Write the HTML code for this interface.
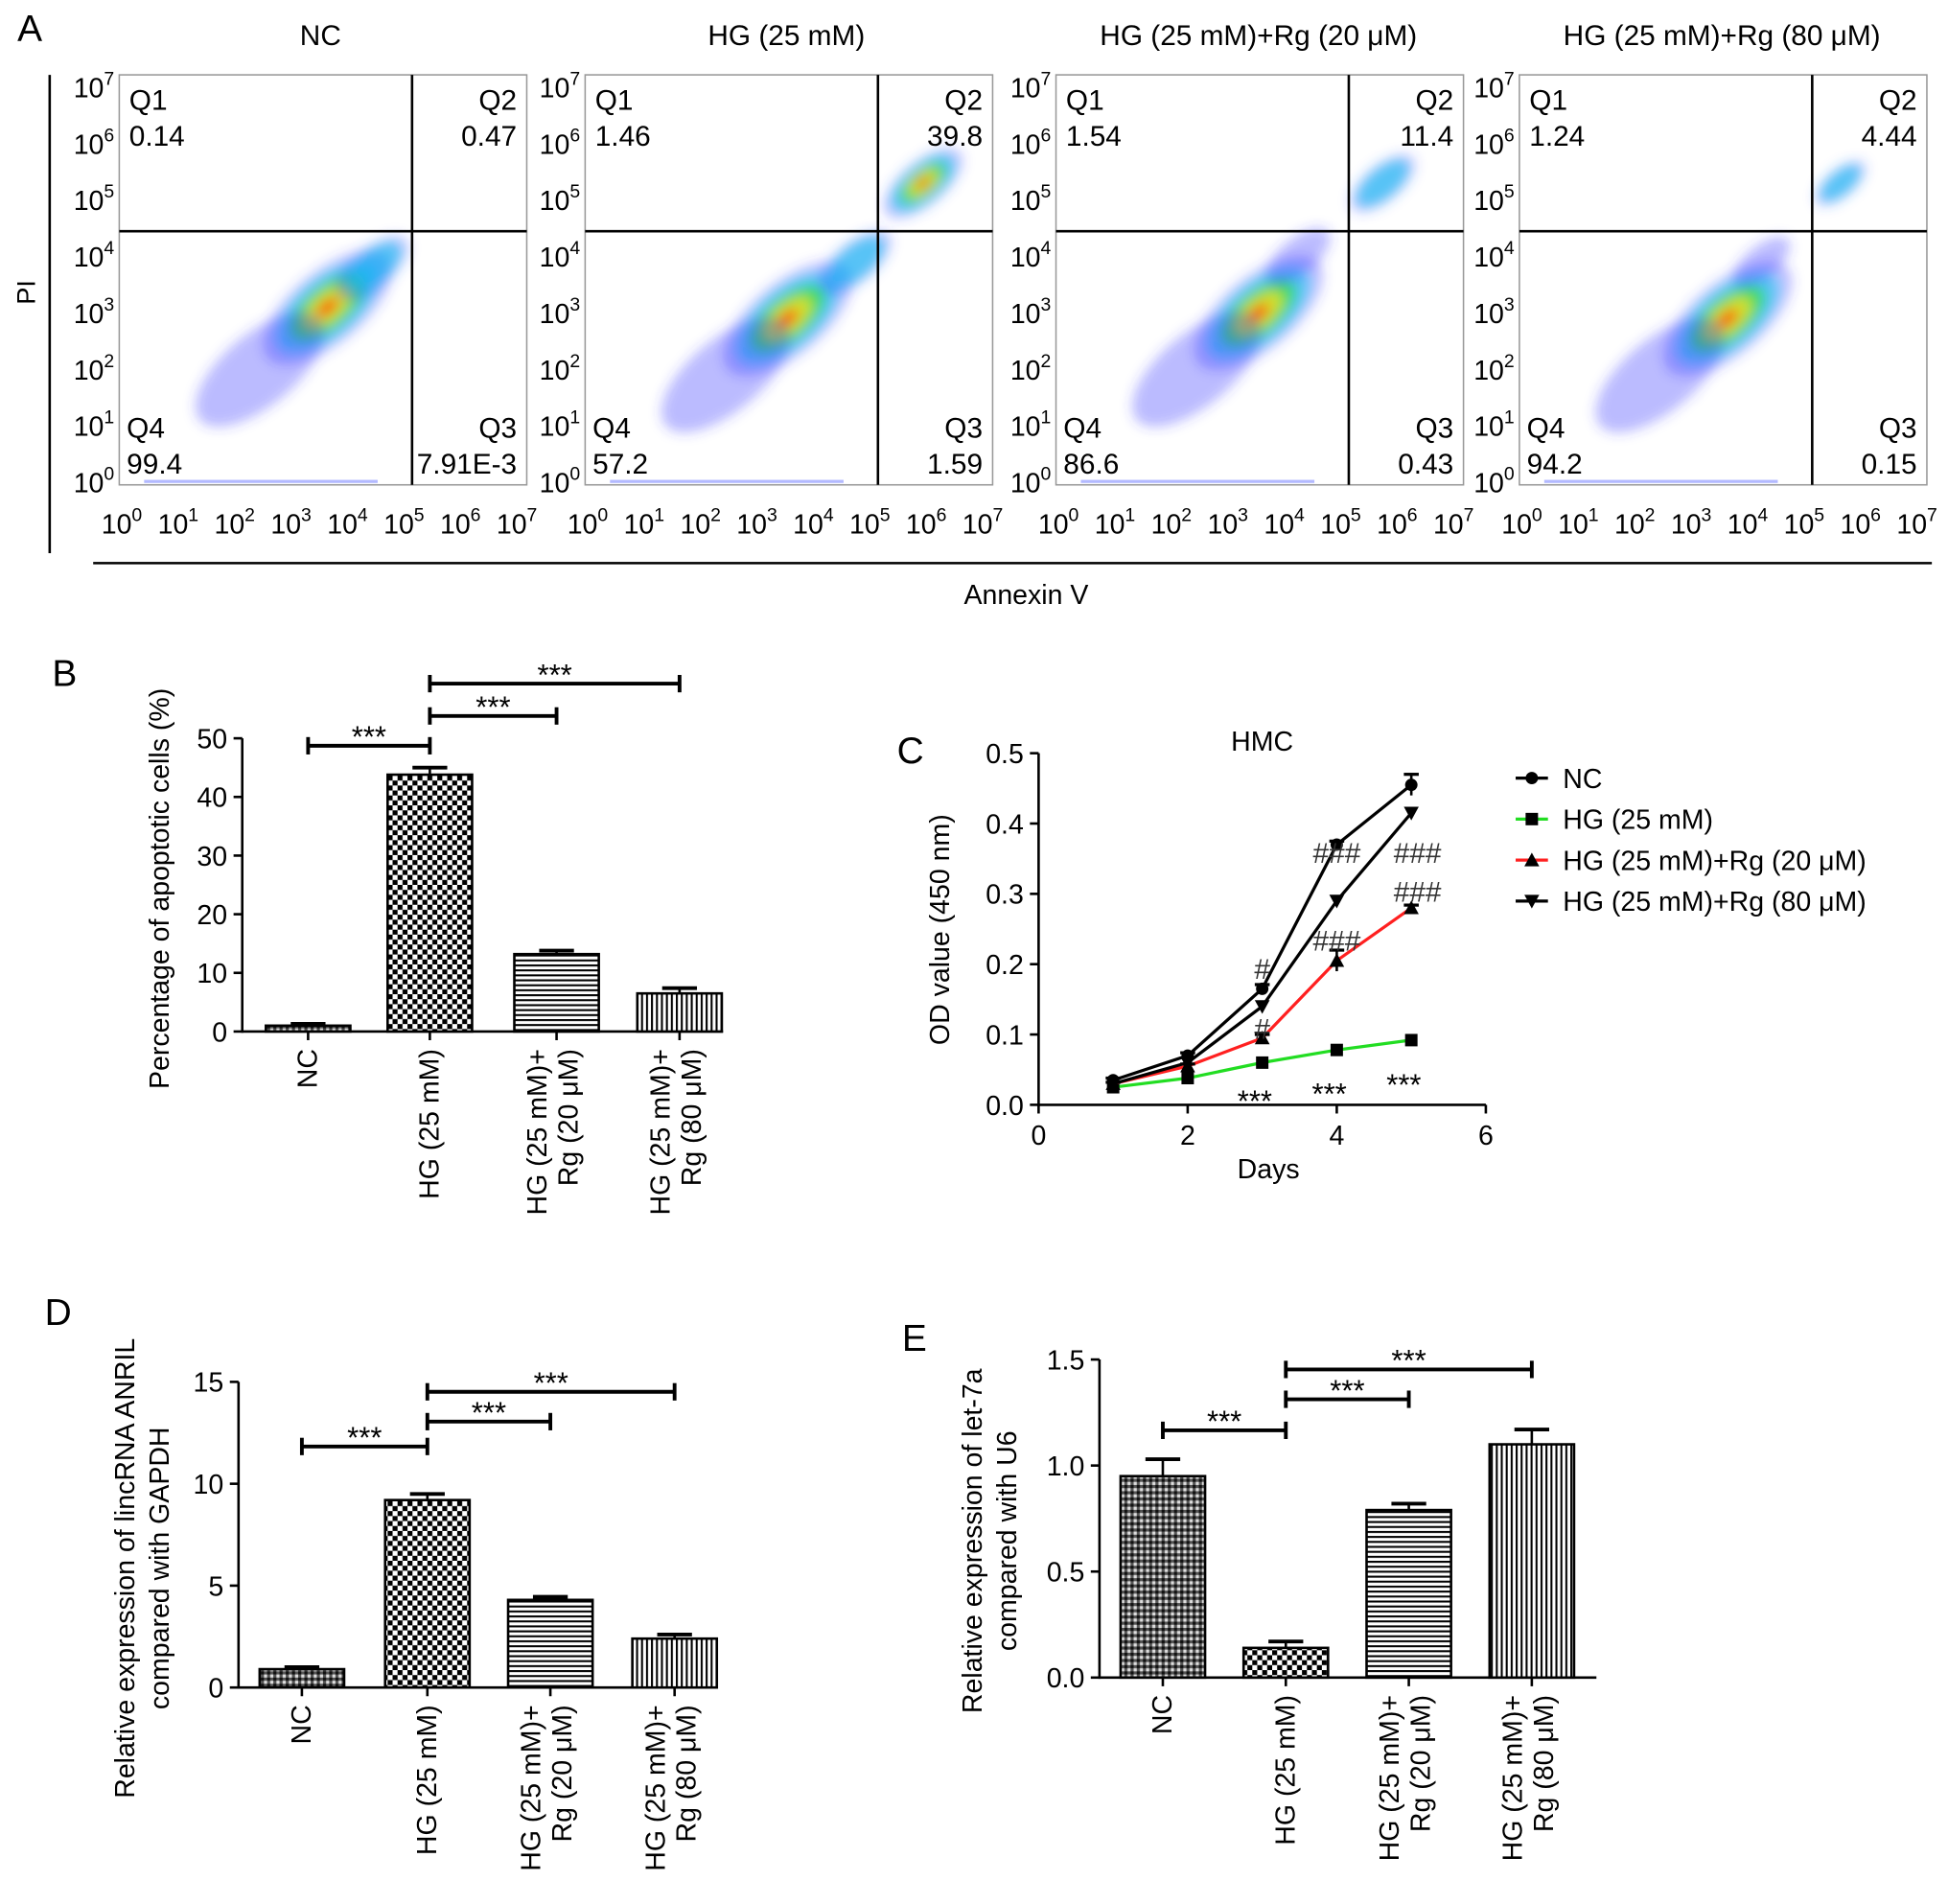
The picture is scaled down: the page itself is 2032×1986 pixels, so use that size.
<!DOCTYPE html>
<html><head><meta charset="utf-8">
<style>
html,body{margin:0;padding:0;background:#fff;}
svg{display:block;font-family:"Liberation Sans",Arial,sans-serif;}
</style></head>
<body>
<svg id="fig" xmlns="http://www.w3.org/2000/svg" width="2032" height="1986" viewBox="0 0 1568 1532">
<defs>
<pattern id="pChk" width="8" height="8" patternUnits="userSpaceOnUse"><rect width="8" height="8" fill="#fff"/><rect width="4" height="4" fill="#000"/><rect x="4" y="4" width="4" height="4" fill="#000"/></pattern>
<pattern id="pChkFine" width="5" height="5" patternUnits="userSpaceOnUse"><rect width="5" height="5" fill="#555"/><rect width="2.5" height="2.5" fill="#111"/><rect x="2.5" y="2.5" width="2.5" height="2.5" fill="#ddd"/></pattern>
<pattern id="pHor" width="6" height="4" patternUnits="userSpaceOnUse"><rect width="6" height="4" fill="#fff"/><rect width="6" height="1.6" fill="#000"/></pattern>
<pattern id="pVer" width="4" height="6" patternUnits="userSpaceOnUse"><rect width="4" height="6" fill="#fff"/><rect width="1.6" height="6" fill="#000"/></pattern>
<filter id="blur" x="-50%" y="-50%" width="200%" height="200%"><feGaussianBlur stdDeviation="5"/></filter>
</defs>
<g id="root"></g>
</svg>
<script>
// ---------- Panel A data ----------
const flowTitles = ["NC","HG (25 mM)","HG (25 mM)+Rg (20 \u03bcM)","HG (25 mM)+Rg (80 \u03bcM)"];
const flowQ1 = ["0.14","1.46","1.54","1.24"];
const flowQ2 = ["0.47","39.8","11.4","4.44"];
const flowQ3 = ["7.91E-3","1.59","0.43","0.15"];
const flowQ4 = ["99.4","57.2","86.6","94.2"];
// clusters: [panel, logX, logY, size, intensity(0-4)]
const flowClusters = [
 [0,3.6,3.1,0.9,4],[0,2.4,2.0,0.9,0],[0,4.4,3.8,0.5,1],
 [1,3.5,2.9,0.9,4],[1,2.4,1.9,0.9,0],[1,5.9,5.3,0.55,4],[1,4.7,3.9,0.5,1],
 [2,3.5,3.0,0.9,4],[2,2.4,2.0,0.9,0],[2,5.7,5.3,0.45,1],[2,4.2,4.0,0.45,0],
 [3,3.6,2.9,0.9,4],[3,2.4,1.9,0.9,0],[3,5.6,5.3,0.35,1],[3,4.2,3.9,0.4,0]
];
// ---------- Panel B ----------
const bCats = ["NC","HG (25 mM)","HG (25 mM)+|Rg (20 \u03bcM)","HG (25 mM)+|Rg (80 \u03bcM)"];
const bVals = [1.0,43.8,13.2,6.5];
const bErr = [0.3,1.2,0.6,0.9];
const bTicks = [0,10,20,30,40,50];
// ---------- Panel C ----------
const cDays = [1,2,3,4,5];
const cNC = [0.035,0.07,0.165,0.37,0.455];
const cHG = [0.025,0.038,0.06,0.078,0.092];
const cRg20 = [0.03,0.055,0.095,0.205,0.28];
const cRg80 = [0.03,0.06,0.14,0.29,0.415];
const cErrNC = [0.003,0.004,0.006,0.005,0.015];
const cErrRg20 = [0.002,0.003,0.005,0.015,0.004];
const cXTicks = [0,2,4,6];
const cYTicks = [0.0,0.1,0.2,0.3,0.4,0.5];
const cLegend = ["NC","HG (25 mM)","HG (25 mM)+Rg (20 \u03bcM)","HG (25 mM)+Rg (80 \u03bcM)"];
// ---------- Panel D ----------
const dVals = [0.9,9.2,4.3,2.4];
const dErr = [0.1,0.3,0.15,0.2];
const dTicks = [0,5,10,15];
// ---------- Panel E ----------
const eVals = [0.95,0.14,0.79,1.1];
const eErr = [0.08,0.03,0.03,0.07];
const eTicks = [0.0,0.5,1.0,1.5];

const NS="http://www.w3.org/2000/svg";
const root=document.getElementById('root');
function el(tag,attrs,parent,text){const e=document.createElementNS(NS,tag);for(const k in attrs)e.setAttribute(k,attrs[k]);if(text!==undefined)e.textContent=text;(parent||root).appendChild(e);return e;}
function line(x1,y1,x2,y2,w,p,c){return el('line',{x1,y1,x2,y2,stroke:c||'#000','stroke-width':w||2},p);}

// ===== Panel A =====
const pA=el('g',{});


let t=el('text',{x:14,y:33,'font-size':30},pA,'A');

const boxL=[96,471,850,1223], boxW=328, boxT=60, boxB=390;
const titleX=[258,633,1013,1386];
const colors=['#3a3aff','#10c8f0','#30e040','#f0e020','#ff2000'];
const opac=[0.35,0.6,0.8,0.85,0.9];
for(let i=0;i<4;i++){
  const g=el('g',{},pA);
  
  
  const L=boxL[i],R=L+boxW;
  const xs=v=>L+4+v*(boxW-10)/7, ys=v=>388-v*(318/7);
  t=el('text',{x:titleX[i],y:36,'font-size':23,'text-anchor':'middle'},g,flowTitles[i]);
  
  el('rect',{x:L,y:boxT,width:boxW,height:boxB-boxT,fill:'#fff',stroke:'#999','stroke-width':1.2},g);
  const cg=el('g',{filter:'url(#blur)'},g);
  flowClusters.filter(c=>c[0]===i).forEach(c=>{
    const cx=xs(c[1]),cy=ys(c[2]),s=c[3];
    for(let k=0;k<=c[4];k++){
      const f=1-k*0.21;
      const e=el('ellipse',{cx,cy,rx:70*s*f,ry:32*s*f,fill:colors[k],opacity:opac[k],transform:`rotate(-40 ${cx} ${cy})`},cg);
      
    }
  });
  el('rect',{x:L+20,y:386,width:boxW-140,height:2.5,fill:'#4050ff',opacity:0.4},g);
  const qx=xs(5.1), qy=ys(4.45);
  line(qx,boxT,qx,boxB,2,g);line(L,qy,R,qy,2,g);
  const fs=23;
  [['Q1',L+8,88,'start'],[flowQ1[i],L+8,117,'start'],['Q2',R-8,88,'end'],[flowQ2[i],R-8,117,'end'],
   ['Q4',L+6,352,'start'],[flowQ4[i],L+6,381,'start'],['Q3',R-8,352,'end'],[flowQ3[i],R-8,381,'end']].forEach(q=>{
    const tt=el('text',{x:q[1],y:q[2],'font-size':fs,'text-anchor':q[3]},g,q[0]);
    
  });
  for(let d=0;d<=7;d++){
    const ty=el('text',{x:L-4,y:ys(d)+8,'font-size':22,'text-anchor':'end'},g);
    
    ty.innerHTML='10<tspan dy="-10" font-size="15">'+d+'</tspan>';
    const tx=el('text',{x:xs(d)-2,y:429,'font-size':22,'text-anchor':'middle'},g);
    
    tx.innerHTML='10<tspan dy="-10" font-size="15">'+d+'</tspan>';
  }
}
line(40,60,40,445,2,pA);line(75,453,1555,453,2,pA);
t=el('text',{x:28,y:235,'font-size':21,'text-anchor':'middle',transform:'rotate(-90 28 235)'},pA,'PI');

t=el('text',{x:826,y:486,'font-size':22,'text-anchor':'middle'},pA,'Annexin V');


// ===== Bar chart helper =====
function barChart(cfg){
  const g=el('g',{});
  
  
  const ys=v=>cfg.y0-(v-cfg.ticks[0])/(cfg.ticks[cfg.ticks.length-1]-cfg.ticks[0])*(cfg.y0-cfg.yTop);
  line(cfg.ax,cfg.yTop,cfg.ax,cfg.y0+1,2,g);
  line(cfg.ax,cfg.y0,cfg.xEnd,cfg.y0,2,g);
  cfg.ticks.forEach(v=>{
    line(cfg.ax-7,ys(v),cfg.ax,ys(v),2,g);
    const tt=el('text',{x:cfg.ax-12,y:ys(v)+8,'font-size':22,'text-anchor':'end'},g,cfg.fmt(v));
    
  });
  const fills=cfg.fills;
  cfg.vals.forEach((v,i)=>{
    const cx=cfg.xs[i], w=68;
    const r=el('rect',{x:cx-w/2,y:ys(v),width:w,height:cfg.y0-ys(v),fill:fills[i],stroke:'#000','stroke-width':2},g);
    
    const top=ys(v+cfg.err[i]);
    line(cx,ys(v),cx,top,2,g);line(cx-14,top,cx+14,top,3,g);
    line(cx,cfg.y0,cx,cfg.y0+7,2,g);
    const parts=bCats[i].split('|');
    const lx=cx+(parts.length>1?-8:7);
    parts.forEach((p,k)=>{
      const xx=lx+k*25;
      const tt=el('text',{x:xx,y:cfg.y0+14,'font-size':22,'text-anchor':'end',transform:`rotate(-90 ${xx} ${cfg.y0+14})`},g,p);
      
    });
  });
  cfg.brackets.forEach(b=>{
    const x1=cfg.xs[b[0]],x2=cfg.xs[b[1]],y=b[2];
    const bg=el('g',{},g);
    
    line(x1,y,x2,y,3,bg);line(x1,y-7,x1,y+7,3,bg);line(x2,y-7,x2,y+7,3,bg);
    el('text',{x:(x1+x2)/2,y:y+1,'font-size':24,'text-anchor':'middle'},bg,'***');
  });
  cfg.ylabel.forEach((s,k)=>{
    const x=cfg.ylx+k*28;
    const tt=el('text',{x,y:cfg.yly,'font-size':22,'text-anchor':'middle',transform:`rotate(-90 ${x} ${cfg.yly})`},g,s);
    
  });
  const tl=el('text',{x:cfg.lab[0],y:cfg.lab[1],'font-size':30},g,cfg.lab[2]);
  
}
barChart({name:'panel-b-apoptosis-bar-chart',ax:195,y0:830,yTop:594,xEnd:582,ticks:bTicks,fmt:v=>String(v),
  vals:bVals,err:bErr,xs:[248,346,448,547],fills:['url(#pChkFine)','url(#pChk)','url(#pHor)','url(#pVer)'],
  brackets:[[0,1,600],[1,2,576],[1,3,550]],ylabel:['Percentage of apoptotic cells (%)'],ylx:136,yly:715,lab:[42,552,'B']});
barChart({name:'panel-d-anril-bar-chart',ax:192,y0:1358,yTop:1112,xEnd:570,ticks:dTicks,fmt:v=>String(v),
  vals:dVals,err:dErr,xs:[243,344,443,543],fills:['url(#pChkFine)','url(#pChk)','url(#pHor)','url(#pVer)'],
  brackets:[[0,1,1164],[1,2,1144],[1,3,1120]],ylabel:['Relative expression of lincRNA ANRIL','compared with GAPDH'],ylx:108,yly:1262,lab:[36,1066,'D']});
barChart({name:'panel-e-let7a-bar-chart',ax:885,y0:1350,yTop:1094,xEnd:1285,ticks:eTicks,fmt:v=>v.toFixed(1),
  vals:eVals,err:eErr,xs:[936,1035,1134,1233],fills:['url(#pChkFine)','url(#pChk)','url(#pHor)','url(#pVer)'],
  brackets:[[0,1,1151],[1,2,1126],[1,3,1102]],ylabel:['Relative expression of let-7a','compared with U6'],ylx:790,yly:1240,lab:[726,1087,'E']});

// ===== Panel C line chart =====
const gc=el('g',{});


const cxs=v=>836+v*60, cys=v=>889-v*(889-606)/0.5;
line(836,606,836,890,2,gc);line(835,889,1196,889,2,gc);
cYTicks.forEach(v=>{line(829,cys(v),836,cys(v),2,gc);
  const tt=el('text',{x:824,y:cys(v)+8,'font-size':22,'text-anchor':'end'},gc,v.toFixed(1));
  });
cXTicks.forEach(v=>{line(cxs(v),889,cxs(v),896,2,gc);
  const tt=el('text',{x:cxs(v),y:921,'font-size':22,'text-anchor':'middle'},gc,String(v));
  });
t=el('text',{x:1016,y:604,'font-size':22,'text-anchor':'middle'},gc,'HMC');
t=el('text',{x:1021,y:948,'font-size':22,'text-anchor':'middle'},gc,'Days');
t=el('text',{x:764,y:748,'font-size':22,'text-anchor':'middle',transform:'rotate(-90 764 748)'},gc,'OD value (450 nm)');
t=el('text',{x:722,y:614,'font-size':30},gc,'C');
const series=[[cNC,'#000','circle',cErrNC],[cHG,'#22dd22','square',null],[cRg20,'#ff2020','tri',cErrRg20],[cRg80,'#000','tridown',null]];
function marker(type,x,y,p){
  if(type==='circle')return el('circle',{cx:x,cy:y,r:5,fill:'#000'},p);
  if(type==='square')return el('rect',{x:x-5,y:y-5,width:10,height:10,fill:'#000'},p);
  if(type==='tri')return el('polygon',{points:`${x},${y-6} ${x-6},${y+5} ${x+6},${y+5}`,fill:'#000'},p);
  return el('polygon',{points:`${x},${y+6} ${x-6},${y-5} ${x+6},${y-5}`,fill:'#000'},p);
}
series.forEach((s,si)=>{
  const sg=el('g',{},gc);
  
  
  const pts=s[0].map((v,i)=>cxs(cDays[i])+','+cys(v)).join(' ');
  el('polyline',{points:pts,fill:'none',stroke:s[1],'stroke-width':2.5},sg);
  s[0].forEach((v,i)=>{
    if(s[3]){const e=s[3][i];line(cxs(cDays[i]),cys(v-e),cxs(cDays[i]),cys(v+e),2,sg);line(cxs(cDays[i])-6,cys(v+e),cxs(cDays[i])+6,cys(v+e),2.5,sg);}
    const m=marker(s[2],cxs(cDays[i]),cys(v),sg);
    
  });
});
[['***',3,0.014],['***',4,0.024],['***',5,0.037]].forEach(a=>{
  const tt=el('text',{x:cxs(a[1])-6,y:cys(a[2])+13,'font-size':24,'text-anchor':'middle'},gc,a[0]);
  });
[['#',3,0.195],['#',3,0.11],['###',4,0.36],['###',4,0.235],['###',5,0.36],['###',5,0.305]].forEach(a=>{
  const tt=el('text',{x:cxs(a[1])+(a[1]===5?5:0),y:cys(a[2])+9,'font-size':23,'text-anchor':'middle',fill:'#333'},gc,a[0]);
  });
cLegend.forEach((s,i)=>{
  const y=626+i*33;
  const lg=el('g',{},gc);
  
  line(1220,y,1246,y,2.5,lg,series[i][1]);
  marker(series[i][2],1233,y,lg);
  el('text',{x:1258,y:y+8,'font-size':22},lg,s);
});
</script>
</body></html>
